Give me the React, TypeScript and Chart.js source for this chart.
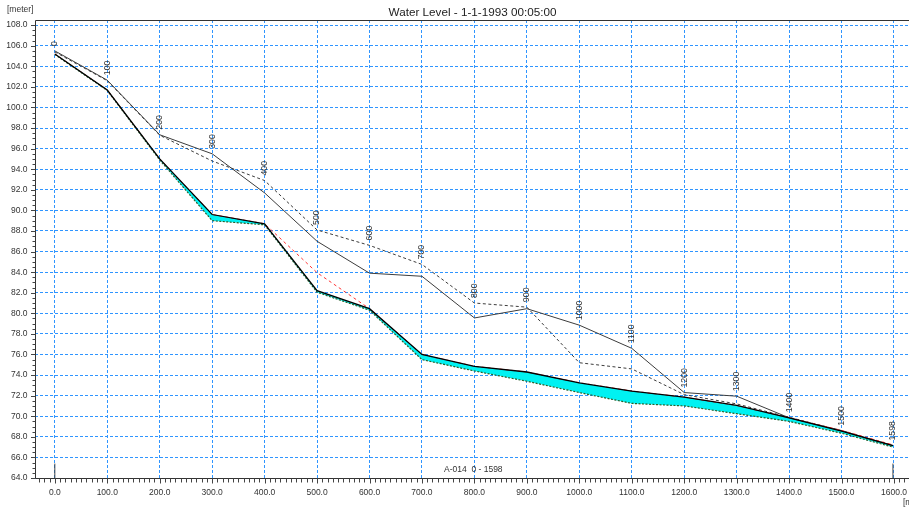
import React, { useEffect, useRef } from "react";
import { Chart, registerables } from "chart.js";

Chart.register(...registerables);

// ---- data ----
const chainages = [0, 100, 200, 300, 400, 500, 600, 700, 800, 900, 1000, 1100, 1200, 1300, 1400, 1500, 1598];
const chainageLabels = ["0", "100", "200", "300", "400", "500", "600", "700", "800", "900", "1000", "1100", "1200", "1300", "1400", "1500", "1598"];
const leftBank = [105.5, 102.65, 97.35, 95.5, 91.7, 87.0, 83.9, 83.6, 79.55, 80.45, 78.85, 76.6, 72.3, 71.95, 69.85, 68.6, 67.15];
const rightBank = [105.4, 102.6, 97.3, 94.8, 92.9, 88.1, 86.6, 84.75, 81.0, 80.6, 75.2, 74.6, 72.1, 71.2, 69.9, 68.6, 67.15];
const waterLevel = [105.2, 101.7, 95.0, 89.6, 88.7, 82.2, 80.45, 76.0, 74.85, 74.3, 73.25, 72.45, 71.85, 71.05, 69.85, 68.55, 67.15];
const bedLevel = [105.15, 101.65, 94.9, 89.0, 88.6, 82.05, 80.3, 75.5, 74.4, 73.4, 72.3, 71.25, 71.0, 70.25, 69.5, 68.35, 67.0];
const criticalLevel = [105.2, 101.7, 95.0, 89.6, 88.7, 83.95, 80.45, 76.0, 74.85, 74.3, 73.25, 72.45, 71.85, 71.05, 69.85, 68.63, 67.22];
const nodeMarkerX = [0, 1598];
const nodeMarkerTop = 65.4;

const xTickValues = [0, 100, 200, 300, 400, 500, 600, 700, 800, 900, 1000, 1100, 1200, 1300, 1400, 1500, 1600];
const yTickValues = [64, 66, 68, 70, 72, 74, 76, 78, 80, 82, 84, 86, 88, 90, 92, 94, 96, 98, 100, 102, 104, 106, 108];

const titleText = "Water Level - 1-1-1993 00:05:00";
const branchText = "A-014  0 - 1598";
const yUnitText = "[meter]";
const xUnitText = "[meter]";

const X_MIN = -37.8;
const X_MAX = 1628.6;
const Y_MIN = 64;
const Y_MAX = 108.5;

const FONT = '"Liberation Sans", Arial, sans-serif';
const GRID = "#2f95ff";
const TEXT = "#333333";

const pts = (vals: number[]) => chainages.map((x, i) => ({ x, y: vals[i] }));

const decorPlugin = {
  id: "decor",
  afterDraw(chart: any) {
    const { ctx, chartArea, scales } = chart;
    const xs = scales.x;
    const ys = scales.y;
    const left = Math.round(chartArea.left) + 0.5;
    const top = Math.round(chartArea.top) + 0.5;
    const bottom = Math.round(chartArea.bottom) + 0.5;
    const right = chart.width;
    ctx.save();

    // frame lines
    ctx.strokeStyle = "#333333";
    ctx.lineWidth = 1;
    ctx.setLineDash([]);
    ctx.beginPath();
    ctx.moveTo(left, top);
    ctx.lineTo(right, top);
    ctx.moveTo(left, top);
    ctx.lineTo(left, bottom);
    ctx.moveTo(left, bottom);
    ctx.lineTo(right, bottom);
    ctx.stroke();

    // y ticks (major every 2, minor every 0.5)
    ctx.strokeStyle = "#444444";
    ctx.beginPath();
    for (let v = Y_MIN; v <= 108.0001; v += 0.5) {
      const py = Math.round(ys.getPixelForValue(v)) + 0.5;
      const major = Math.abs(v % 2) < 1e-6;
      ctx.moveTo(left - (major ? 4.5 : 3), py);
      ctx.lineTo(left, py);
    }
    ctx.stroke();
    ctx.fillStyle = TEXT;
    ctx.font = `8.5px ${FONT}`;
    ctx.textAlign = "right";
    ctx.textBaseline = "middle";
    yTickValues.forEach((v) => {
      ctx.fillText(v.toFixed(1), 27.5, ys.getPixelForValue(v));
    });

    // x ticks (major every 100, minor every 10)
    ctx.beginPath();
    for (let v = -30; v <= X_MAX; v += 10) {
      const px = Math.round(xs.getPixelForValue(v)) + 0.5;
      const major = Math.abs(v % 100) < 1e-6;
      ctx.moveTo(px, bottom);
      ctx.lineTo(px, bottom + (major ? 5 : 4));
    }
    ctx.stroke();
    ctx.textAlign = "center";
    xTickValues.forEach((v) => {
      ctx.fillText(v.toFixed(1), xs.getPixelForValue(v), 492.5);
    });

    // units
    ctx.font = `8.5px ${FONT}`;
    ctx.textAlign = "left";
    ctx.fillText(yUnitText, 7, 9.5);
    ctx.fillText(xUnitText, 903, 503);

    // title
    ctx.font = `11.7px ${FONT}`;
    ctx.textAlign = "center";
    ctx.fillStyle = "#222222";
    ctx.fillText(titleText, 472.5, 12.5);

    // branch label
    ctx.font = `8.5px ${FONT}`;
    ctx.textAlign = "left";
    ctx.fillStyle = TEXT;
    ctx.fillText(branchText, 444, 470);

    // chainage labels, rotated, above the higher bank
    ctx.font = `8.8px ${FONT}`;
    ctx.fillStyle = "#333333";
    chainages.forEach((c, i) => {
      const px = xs.getPixelForValue(c);
      const py = ys.getPixelForValue(Math.max(leftBank[i], rightBank[i]));
      ctx.save();
      ctx.translate(px, py - 5);
      ctx.rotate(-Math.PI / 2);
      ctx.textAlign = "left";
      ctx.textBaseline = "middle";
      ctx.fillText(chainageLabels[i], 0, 0);
      ctx.restore();
    });

    ctx.restore();
  },
};

export default function App() {
  const canvasRef = useRef<HTMLCanvasElement | null>(null);

  useEffect(() => {
    if (!canvasRef.current) return;
    const chart = new Chart(canvasRef.current, {
      type: "line",
      data: {
        datasets: [
          {
            label: "Water level",
            data: pts(waterLevel),
            borderColor: "#000000",
            borderWidth: 1.3,
            backgroundColor: "#00f2f2",
            fill: "+1",
          },
          {
            label: "Bed level",
            data: pts(bedLevel),
            borderColor: "#2b5e2b",
            borderWidth: 1.2,
            borderDash: [2, 1.5],
            fill: false,
          },
          {
            label: "Critical level",
            data: pts(criticalLevel),
            borderColor: "#ff3333",
            borderWidth: 1,
            borderDash: [3, 3],
            fill: false,
          },
          {
            label: "Left bank",
            data: pts(leftBank),
            borderColor: "#3c3c3c",
            borderWidth: 1,
            fill: false,
          },
          {
            label: "Right bank",
            data: pts(rightBank),
            borderColor: "#3c3c3c",
            borderWidth: 1,
            borderDash: [3, 2.5],
            fill: false,
          },
          ...nodeMarkerX.map((nx) => ({
            label: "node",
            data: [
              { x: nx, y: Y_MIN },
              { x: nx, y: nodeMarkerTop },
            ],
            borderColor: "#444444",
            borderWidth: 1,
            fill: false,
          })),
        ] as any,
      },
      options: {
        animation: false,
        responsive: false,
        maintainAspectRatio: false,
        layout: { padding: { left: 35, top: 20, right: 0, bottom: 32 } },
        elements: {
          point: { radius: 0, hoverRadius: 0 },
          line: { tension: 0 },
        },
        plugins: {
          legend: { display: false },
          tooltip: { enabled: false },
          title: { display: false },
          filler: { drawTime: "beforeDatasetsDraw", propagate: false },
        } as any,
        scales: {
          x: {
            type: "linear",
            min: X_MIN,
            max: X_MAX,
            afterBuildTicks: (s: any) => {
              s.ticks = xTickValues.map((v) => ({ value: v }));
            },
            ticks: { display: false },
            grid: { color: GRID, lineWidth: 1, drawTicks: false },
            border: { display: false, dash: [3, 2] },
          },
          y: {
            type: "linear",
            min: Y_MIN,
            max: Y_MAX,
            afterBuildTicks: (s: any) => {
              s.ticks = yTickValues.map((v) => ({ value: v }));
            },
            ticks: { display: false },
            grid: { color: GRID, lineWidth: 1, drawTicks: false },
            border: { display: false, dash: [3, 2] },
          },
        } as any,
      },
      plugins: [decorPlugin],
    });
    return () => chart.destroy();
  }, []);

  return (
    <div style={{ position: "absolute", left: 0, top: 0, width: 909, height: 510, background: "#ffffff" }}>
      <canvas ref={canvasRef} width={909} height={510} style={{ width: 909, height: 510, display: "block" }} />
    </div>
  );
}
